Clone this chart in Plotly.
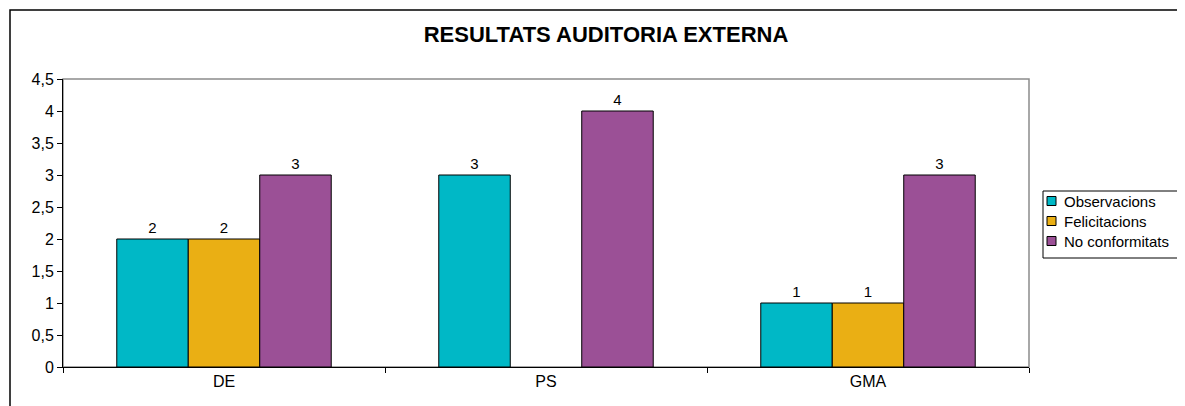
import plotly.graph_objects as go

categories = ["DE", "PS", "GMA"]
observacions = [2, 3, 1]
felicitacions = [2, None, 1]
no_conformitats = [3, 4, 3]
series_names = ["Observacions", "Felicitacions", "No conformitats"]
colors = ["#00B8C6", "#EAAF14", "#9B5096"]
y_tickvals = [0, 0.5, 1, 1.5, 2, 2.5, 3, 3.5, 4, 4.5]
y_ticktext = ["0", "0,5", "1", "1,5", "2", "2,5", "3", "3,5", "4", "4,5"]

FONT = "Liberation Sans, Arial, sans-serif"
OFF = 8  # page body margin

fig = go.Figure()
for name, vals, col in zip(series_names, [observacions, felicitacions, no_conformitats], colors):
    fig.add_trace(go.Bar(
        x=categories, y=vals, name=name,
        marker=dict(color=col, line=dict(color="#000000", width=1)),
        text=[("" if v is None else str(v)) for v in vals],
        textposition="outside", cliponaxis=False,
        textfont=dict(family=FONT, size=15, color="#000000"),
        showlegend=False,
    ))

W, H = 1185 - OFF, 406 - OFF
L, R, T, B = 63 - OFF, 1029 - OFF, 79 - OFF, 367 - OFF
pw, ph = R - L, B - T

def px(x):
    return (x - OFF - L) / pw

def py(y):
    return (B - (y - OFF)) / ph

shapes = [
    dict(type="rect", xref="paper", yref="paper", x0=0, x1=1, y0=0, y1=1,
         line=dict(color="#8C8C8C", width=1.5), layer="below"),
    dict(type="rect", xref="paper", yref="paper", x0=px(10), x1=px(1400), y0=py(600), y1=py(10),
         line=dict(color="#000000", width=1.5), layer="below"),
    # legend frame
    dict(type="rect", xref="paper", yref="paper", x0=px(1043), x1=px(1300), y0=py(258), y1=py(191),
         line=dict(color="#000000", width=1), fillcolor="white", layer="above"),
]
annotations = []
row_y = [201, 221, 241]
for name, col, yy in zip(series_names, colors, row_y):
    shapes.append(dict(type="rect", xref="paper", yref="paper",
                       x0=px(1047), x1=px(1056), y0=py(yy + 4.5), y1=py(yy - 4.5),
                       line=dict(color="#000000", width=1), fillcolor=col, layer="above"))
    annotations.append(dict(text=name, xref="paper", yref="paper", x=px(1062), y=py(yy),
                            xanchor="left", yanchor="middle", showarrow=False,
                            font=dict(family=FONT, size=15, color="#000000")))

fig.update_layout(
    width=W, height=H,
    margin=dict(l=L, r=W - R, t=T, b=H - B, pad=0, autoexpand=False),
    paper_bgcolor="white", plot_bgcolor="white",
    barmode="group", bargap=0.334, bargroupgap=0,
    font=dict(family=FONT, size=15, color="#000000"),
    title=dict(text="<b>RESULTATS AUDITORIA EXTERNA</b>", xref="paper", x=px(606), xanchor="center",
               y=1 - (34 - OFF) / H, yanchor="middle", font=dict(family=FONT, size=22, color="#000000")),
    showlegend=False,
    xaxis=dict(type="category", showline=True, linecolor="#000000", linewidth=1,
               ticks="outside", ticklen=5, tickcolor="#000000", tickson="boundaries",
               showgrid=False, tickfont=dict(family=FONT, size=16, color="#000000")),
    yaxis=dict(range=[0, 4.5], showline=True, linecolor="#000000", linewidth=1,
               tickvals=y_tickvals, ticktext=y_ticktext, ticks="outside", ticklen=5,
               tickcolor="#000000", showgrid=False, zeroline=False,
               tickfont=dict(family=FONT, size=16, color="#000000")),
    shapes=shapes,
    annotations=annotations,
)

fig.write_html("out.html")
